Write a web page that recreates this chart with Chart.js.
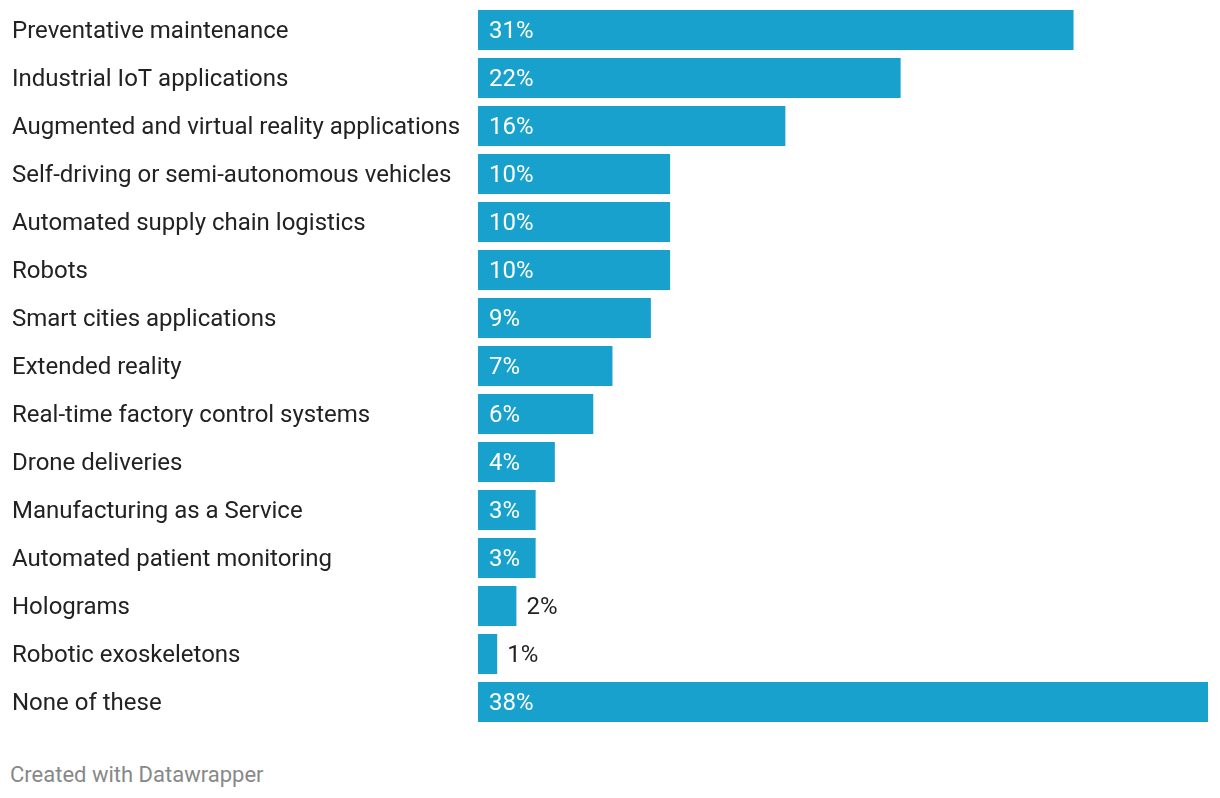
<!DOCTYPE html>
<html>
<head>
<meta charset="utf-8">
<script src="https://cdn.jsdelivr.net/npm/chart.js@4"></script>
<style>
  html, body { margin: 0; padding: 0; background: #fff; }
  #wrap { position: relative; width: 1220px; height: 740px; }
  #credit {
    position: absolute; left: 10px; top: 762px;
    font-family: Roboto, sans-serif; font-size: 22px; color: #888;
  }
</style>
</head>
<body>
<div id="wrap"><canvas id="chart"></canvas></div>
<div id="credit">Created with Datawrapper</div>
<script>
const categories = [
    'Preventative maintenance',
    'Industrial IoT applications',
    'Augmented and virtual reality applications',
    'Self-driving or semi-autonomous vehicles',
    'Automated supply chain logistics',
    'Robots',
    'Smart cities applications',
    'Extended reality',
    'Real-time factory control systems',
    'Drone deliveries',
    'Manufacturing as a Service',
    'Automated patient monitoring',
    'Holograms',
    'Robotic exoskeletons',
    'None of these'
];
const shares = [31, 22, 16, 10, 10, 10, 9, 7, 6, 4, 3, 3, 2, 1, 38];

// value labels: white inside the bar, dark next to it when the bar is too short
const valueLabels = {
    id: 'valueLabels',
    afterDatasetsDraw(chart) {
        const ctx = chart.ctx;
        const meta = chart.getDatasetMeta(0);
        ctx.save();
        ctx.font = '24px Roboto, sans-serif';
        ctx.textBaseline = 'middle';
        ctx.textAlign = 'left';
        meta.data.forEach((bar, i) => {
            const text = shares[i] + '%';
            const w = ctx.measureText(text).width;
            const barLeft = bar.base;
            if (bar.x - barLeft > w + 20) {
                ctx.fillStyle = '#fff';
                ctx.fillText(text, barLeft + 11, bar.y + 2);
            } else {
                ctx.fillStyle = '#222';
                ctx.fillText(text, bar.x + 10, bar.y + 2);
            }
        });
        ctx.restore();
    }
};

new Chart(document.getElementById('chart').getContext('2d'), {
    type: 'bar',
    data: {
        labels: categories,
        datasets: [{
            data: shares,
            backgroundColor: '#18a1cd',
            borderWidth: 0,
            categoryPercentage: 1,
            barPercentage: 40 / 48
        }]
    },
    options: {
        indexAxis: 'y',
        responsive: true,
        maintainAspectRatio: false,
        animation: false,
        layout: { padding: { left: 12, right: 12, top: 6, bottom: 14 } },
        plugins: {
            legend: { display: false },
            tooltip: { enabled: false }
        },
        scales: {
            x: {
                display: false,
                min: 0,
                max: 38
            },
            y: {
                grid: { display: false, drawTicks: false },
                border: { display: false },
                afterFit(scale) {
                    scale.width = 466;
                    scale.paddingTop = 0;
                    scale.paddingBottom = 0;
                },
                ticks: {
                    crossAlign: 'far',
                    padding: 0,
                    labelOffset: 2,
                    color: '#222',
                    font: { family: 'Roboto, sans-serif', size: 24 }
                }
            }
        }
    },
    plugins: [valueLabels]
});
</script>
</body>
</html>
